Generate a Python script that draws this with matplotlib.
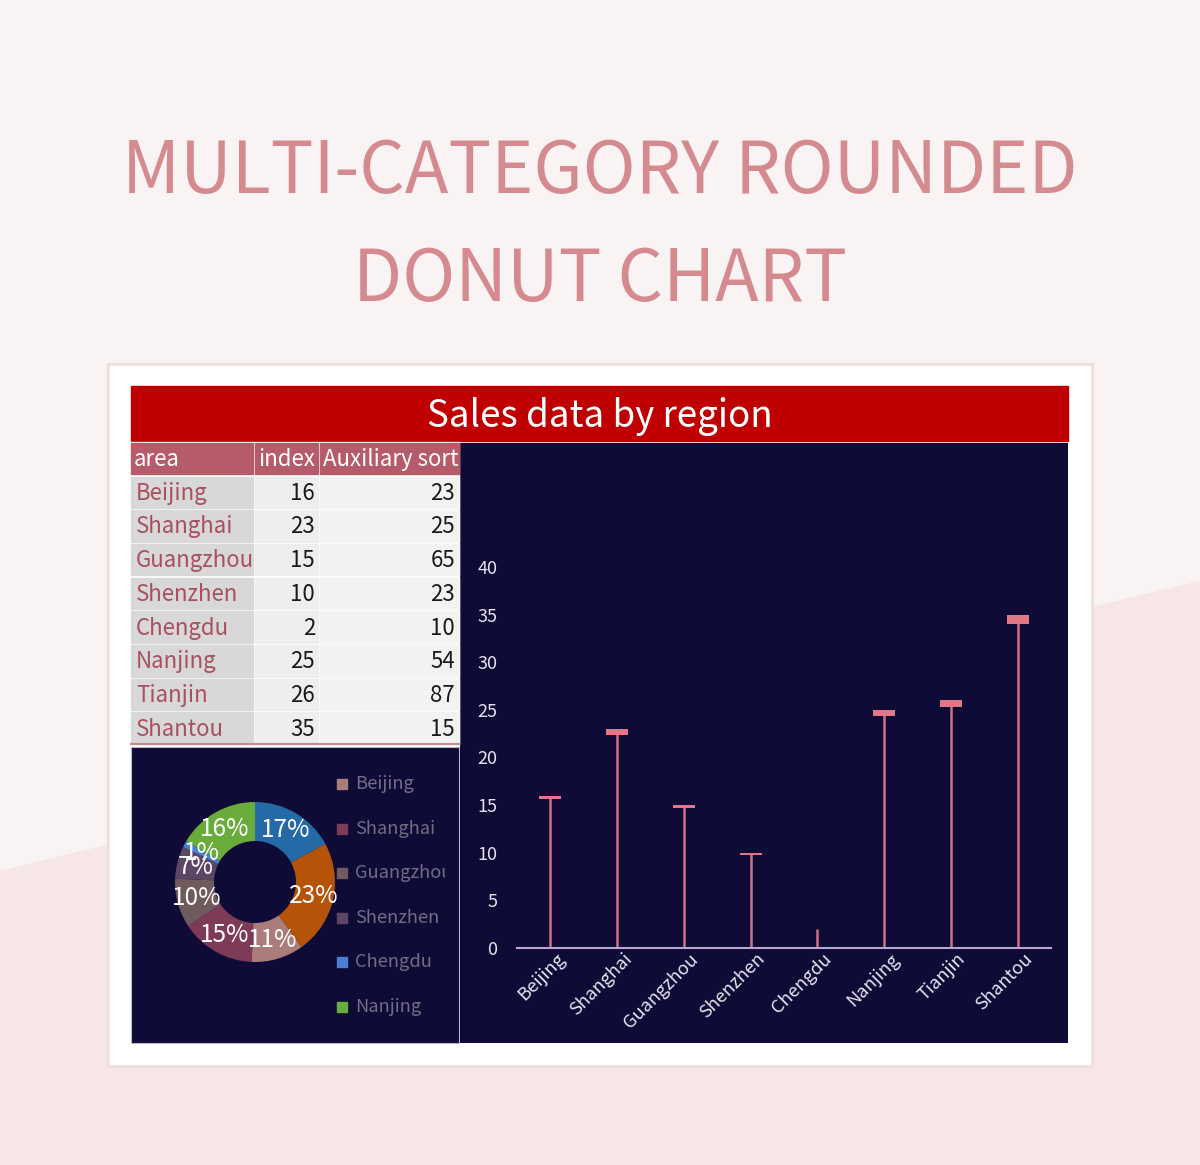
import matplotlib
matplotlib.use('Agg')
import matplotlib.pyplot as plt
from matplotlib.patches import Rectangle, Polygon
import matplotlib.transforms as mtransforms
import numpy as np

# ---- data ----
areas = ['Beijing', 'Shanghai', 'Guangzhou', 'Shenzhen', 'Chengdu', 'Nanjing', 'Tianjin', 'Shantou']
index_vals = [16, 23, 15, 10, 2, 25, 26, 35]
aux_sort = [23, 25, 65, 23, 10, 54, 87, 15]
headers = ['area', 'index', 'Auxiliary sort']
y_ticks = [0, 5, 10, 15, 20, 25, 30, 35, 40]
title_lines = ['MULTI-CATEGORY ROUNDED', 'DONUT CHART']
panel_title = 'Sales data by region'
legend_count = 6

donut_colors = ['#ab7d7a', '#7e3b57', '#6f5b5d', '#5d4566', '#4a7fd4', '#6aac3c', '#246aa6', '#b55409']

FONT = ['Noto Sans CJK SC', 'DejaVu Sans']
plt.rcParams['font.family'] = FONT

W, H = 1200, 1165
fig = plt.figure(figsize=(12, 11.65), dpi=100)
bg = fig.add_axes([0, 0, 1, 1])
bg.set_xlim(0, W)
bg.set_ylim(H, 0)
bg.axis('off')


def fx(x):
    return x / W


def fy(y):
    return 1 - y / H


# background
bg.add_patch(Rectangle((0, 0), W, H, color='#f6e6e7', zorder=0))
bg.add_patch(Polygon([(0, 0), (W, 0), (W, 580), (0, 870)], closed=True, color='#faf3f3', zorder=0.5))

# title
bg.text(600, 193, title_lines[0], ha='center', va='baseline', fontsize=51.5, color='#d48a8f')
bg.text(600, 301, title_lines[1], ha='center', va='baseline', fontsize=51.5, color='#d48a8f')

# card
bg.add_patch(Rectangle((107, 363), 986, 704, color='#efdede', zorder=1))
bg.add_patch(Rectangle((110, 366), 980, 698, color='white', zorder=2))

# red header
bg.add_patch(Rectangle((131, 386), 937, 55, color='#c00000', zorder=3))
bg.text(600, 416, panel_title, ha='center', va='center', fontsize=26.5, color='white', zorder=4)

# dark panels
navy = '#0e0b36'
bg.add_patch(Rectangle((131, 747), 328, 296, facecolor=navy, edgecolor='#b8b4cc', lw=0.8, zorder=3))
bg.add_patch(Rectangle((460, 443), 608, 600, facecolor=navy, edgecolor='none', zorder=3))

# table
cols = [(131, 122), (255, 63), (320, 139)]
hdr_y, hdr_h = 443, 31
bg.add_patch(Rectangle((131, hdr_y - 1), 328, hdr_h + 2, color='white', zorder=3))
for (cx, cw), h in zip(cols, headers):
    hc = Rectangle((cx, hdr_y), cw, hdr_h, color='#b55b69', zorder=4)
    bg.add_patch(hc)
    th = bg.text(cx + 3, hdr_y + hdr_h / 2 + 1, h, ha='left', va='center', fontsize=16, color='white', zorder=5)
    th.set_clip_path(hc)

row0, pitch, rh = 476.5, 33.7, 31.5
bg.add_patch(Rectangle((131, row0 - 2), 328, pitch * len(areas) + 1, color='white', zorder=3))
for i, (a, v, s) in enumerate(zip(areas, index_vals, aux_sort)):
    y = row0 + i * pitch
    cell = Rectangle((cols[0][0], y), cols[0][1], rh, color='#d8d8d8', zorder=4)
    bg.add_patch(cell)
    bg.add_patch(Rectangle((cols[1][0], y), cols[1][1], rh, color='#eeeeee', zorder=4))
    bg.add_patch(Rectangle((cols[2][0], y), cols[2][1], rh, color='#f2f2f2', zorder=4))
    t = bg.text(cols[0][0] + 5, y + rh / 2 + 1, a, ha='left', va='center', fontsize=16, color='#a8505f', zorder=5)
    t.set_clip_path(cell)
    bg.text(cols[1][0] + cols[1][1] - 3, y + rh / 2 + 1, str(v), ha='right', va='center', fontsize=16,
            color='#1a1a1a', zorder=5)
    bg.text(cols[2][0] + cols[2][1] - 4, y + rh / 2 + 1, str(s), ha='right', va='center', fontsize=16,
            color='#1a1a1a', zorder=5)
bg.plot([131, 459], [row0 + pitch * len(areas) - 2.5] * 2, color='#c98a95', lw=1.5, zorder=5)

# ---- lollipop chart ----
ax = fig.add_axes([fx(517), fy(948), fx(1051) - fx(517), (948 - 567) / H])
ax.patch.set_alpha(0)
x = np.arange(len(areas))
vals = np.array(index_vals, dtype=float)
ax.vlines(x, 0, vals, color='#cf7089', lw=1.8, zorder=2)
cap_h = np.where(vals > 5, 0.2 + np.clip(vals - 10, 0, None) * 0.03, 0)
ax.bar(x, cap_h, bottom=vals - cap_h, width=0.33, color='#e07686', lw=0, zorder=3)
ax.set_xlim(-0.5, len(areas) - 0.5)
ax.set_ylim(0, 40)
ax.set_yticks(y_ticks)
ax.set_xticks(x)
ax.set_xticklabels(areas, rotation=45, ha='right', va='center', rotation_mode='anchor')
for sp in ['top', 'right', 'left']:
    ax.spines[sp].set_visible(False)
ax.spines['bottom'].set_color('#b9a6cf')
ax.spines['bottom'].set_linewidth(1.5)
ax.tick_params(axis='y', length=0, pad=14, labelsize=13, labelcolor='#e6e2ee')
ax.tick_params(axis='x', length=0, pad=6, labelsize=13.2, labelcolor='#e6e2ee')
off = mtransforms.ScaledTranslation(12 / 100, 0, fig.dpi_scale_trans)
for lbl in ax.get_xticklabels():
    lbl.set_transform(lbl.get_transform() + off)

# ---- donut ----
ax2 = fig.add_axes([fx(170), fy(967), 170 / W, 170 / H])
R = 80 / 85
total = sum(index_vals)
start = 90 - 360 * (index_vals[6] + index_vals[7]) / total
wedges, texts, autotexts = ax2.pie(index_vals, colors=donut_colors, radius=R, startangle=start,
                                   counterclock=False, autopct='%.0f%%', pctdistance=0.76,
                                   wedgeprops=dict(width=R * 39 / 80, linewidth=0),
                                   textprops=dict(color='white', fontsize=17.5))
ax2.set_xlim(-1, 1)
ax2.set_ylim(-1, 1)
ax2.axis('off')

# legend
lax = fig.add_axes([fx(330), fy(1040), fx(445) - fx(330), (1040 - 760) / H])
lax.set_xlim(330, 445)
lax.set_ylim(1040, 760)
lax.axis('off')
for i in range(legend_count):
    yy = 784 + i * 44.6
    lax.add_patch(Rectangle((337, yy - 5), 10, 10, color=donut_colors[i]))
    lax.text(355, yy, areas[i], ha='left', va='center', fontsize=13.2, color='#746c86', clip_on=True)

fig.savefig('out.png', dpi=100)
